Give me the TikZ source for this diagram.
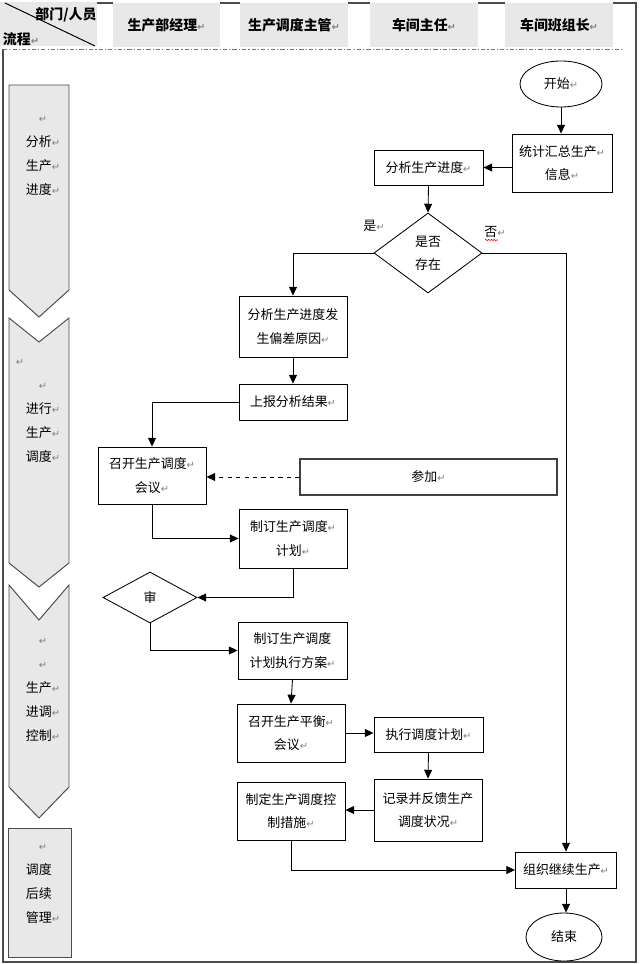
\documentclass[tikz,border=0pt]{standalone}
\usepackage{fontspec}
\setmainfont{Noto Sans CJK SC}
\newfontfamily\markfont{DejaVu Sans}
\usetikzlibrary{arrows.meta,shapes.geometric,decorations.pathmorphing}
\newcommand\retmark{{\markfont\color{black!50}\fontsize{7pt}{7pt}\selectfont ↵}}
\begin{document}
\begin{tikzpicture}[x=0.025cm,y=-0.025cm,line width=0.6pt,
    font=\fontsize{9.2pt}{16.5pt}\selectfont,
    box/.style={draw,align=center,inner sep=1pt,minimum width=2.7cm,minimum height=1.45cm},
    thinbox/.style={box,minimum height=0.9cm},
    decision/.style={draw,diamond,align=center,inner sep=0pt},
    terminal/.style={draw,ellipse,inner sep=0pt},
    head/.style={fill=black!9,inner sep=0pt,minimum width=2.7cm,minimum height=1.1cm,
      font=\fontsize{9.9pt}{12pt}\selectfont\bfseries},
    lane/.style={draw=black!70,fill=black!9,line width=0.7pt},
    lanetext/.style={align=center,font=\fontsize{9.2pt}{17pt}\selectfont},
    flow/.style={-{Triangle[length=2.2mm,width=2mm]}},
    sep/.style={draw=black!55,dash pattern=on 3pt off 1.5pt on 0.8pt off 1.5pt}]
  \useasboundingbox (0,0) rectangle (640,964);

  \draw[black!70,line width=0.8pt] (3,49) -- (3,962) -- (636,962) -- (636,3) -- (613,3);
  \draw[black!70,line width=0.8pt] (97,3) -- (113,3) (220,3) -- (240,3) (348,3) -- (370,3) (478,3) -- (505,3);
  \draw[sep] (3,49) -- (623,49);

  \fill[black!9] (0,2) rectangle (97,46);
  \draw[line width=0.7pt] (5,3) -- (95,46);
  \node[font=\fontsize{9.9pt}{12pt}\selectfont\bfseries] (staff) at (66,15) {部门/人员};
  \node[font=\fontsize{9.9pt}{12pt}\selectfont\bfseries] (steps) at (21,39) {流程\retmark};
  \node[head,minimum width=2.675cm] (mgr) at (166.5,25) {生产部经理\retmark};
  \node[head] (sup) at (294,25) {生产调度主管\retmark};
  \node[head] (dir) at (424,25) {车间主任\retmark};
  \node[head] (lead) at (559,25) {车间班组长\retmark};

  \draw[lane] (9,85) -- (69,85) -- (69,290) -- (39,317) -- (9,290) -- cycle;
  \draw[lane] (9,318) -- (39,342) -- (69,318) -- (69,563) -- (39,587) -- (9,563) -- cycle;
  \draw[lane] (9,585) -- (39,620) -- (69,585) -- (69,787) -- (39,818) -- (9,787) -- cycle;
  \draw[lane] (8,828) rectangle (71,957);
  \node[lanetext] (lane1) at (43,156) {\retmark\\分析\retmark\\生产\retmark\\进度\retmark};
  \node[lanetext] (lane2) at (43,411) {\retmark\hspace*{1.15cm}\\\retmark\\进行\retmark\\生产\retmark\\调度\retmark};
  \node[lanetext] (lane3) at (43,690) {\retmark\\\retmark\\生产\retmark\\进调\retmark\\控制\retmark};
  \node[lanetext] (lane4) at (43,884) {\retmark\\调度\phantom{\retmark}\\后续\phantom{\retmark}\\管理\retmark};

  \node[terminal,minimum width=2.05cm,minimum height=1.15cm] (start) at (561,84) {开始\retmark};
  \node[box,minimum width=2.5cm] (collect) at (562,163) {统计汇总生产\retmark\\信息\retmark};
  \node[thinbox,minimum width=2.725cm,minimum height=0.875cm] (analyse) at (428.5,167.5) {分析生产进度\retmark};
  \node[decision,minimum width=2.7cm,minimum height=2cm] (exist) at (428,253) {是否\\存在};
  \node (yes) at (374,226) {是\retmark};
  \node (no) at (495,232) {否\retmark};
  \draw[red,line width=0.4pt,decorate,decoration={snake,amplitude=0.5pt,segment length=2pt}] (485,240) -- (498,240);
  \node[box,minimum height=1.525cm] (reason) at (293,326.5) {分析生产进度发\\生偏差原因\retmark};
  \node[thinbox] (report) at (293,402) {上报分析结果\retmark};
  \node[box,minimum height=1.425cm] (meeting) at (152,475.5) {召开生产调度\retmark\\会议\retmark};
  \node[thinbox,draw=black!75,line width=0.8pt,minimum width=6.425cm] (attend) at (428.5,477) {参加\retmark};
  \node[box,minimum height=1.475cm] (plan) at (293,538.5) {制订生产调度\retmark\\计划\retmark};
  \node[decision,minimum width=2.35cm,minimum height=1.275cm] (check) at (150,597.5) {审};
  \node[box,minimum width=2.725cm,minimum height=1.425cm] (scheme) at (292.5,650.5) {制订生产调度\\计划执行方案\retmark};
  \node[box] (balance) at (291,733) {召开生产平衡\retmark\\会议\retmark};
  \node[thinbox,minimum width=2.725cm,minimum height=0.875cm] (execute) at (428.5,734.5) {执行调度计划\retmark};
  \node[box,minimum height=1.55cm] (record) at (428,810) {记录并反馈生产\\调度状况\retmark};
  \node[box] (measure) at (291,811) {制定生产调度控\\制措施\retmark};
  \node[thinbox,minimum width=2.525cm] (resume) at (566,870) {组织继续生产\retmark};
  \node[terminal,minimum width=1.9cm,minimum height=1.2cm] (stop) at (564,937) {结束};

  \draw[flow] (start.south) -- (start.south |- collect.north);
  \draw[flow] (collect.west |- analyse.east) -- (analyse.east);
  \draw[flow] (analyse.south) -- (exist.north);
  \draw[flow] (exist.west) -| (reason.north);
  \draw[flow] (exist.east) -| (resume.north);
  \draw[flow] (reason.south) -- (report.north);
  \draw[flow] (report.west) -| (meeting.north);
  \draw[flow,dashed] (attend.west) -- (meeting.east |- attend.west);
  \draw[flow] (meeting.south) |- (plan.west);
  \draw[flow] (plan.south) |- (check.east);
  \draw[flow] (check.south) |- (scheme.west);
  \draw[flow] (scheme.south) -- (balance.north);
  \draw[flow] (balance.east) -- (execute.west |- balance.east);
  \draw[flow] (execute.south) -- (record.north);
  \draw[flow] (record.west) -- (measure.east |- record.west);
  \draw[flow] (measure.south) |- (resume.west);
  \draw[flow] (resume.south) -- (resume.south |- stop.north);
\end{tikzpicture}
\end{document}
